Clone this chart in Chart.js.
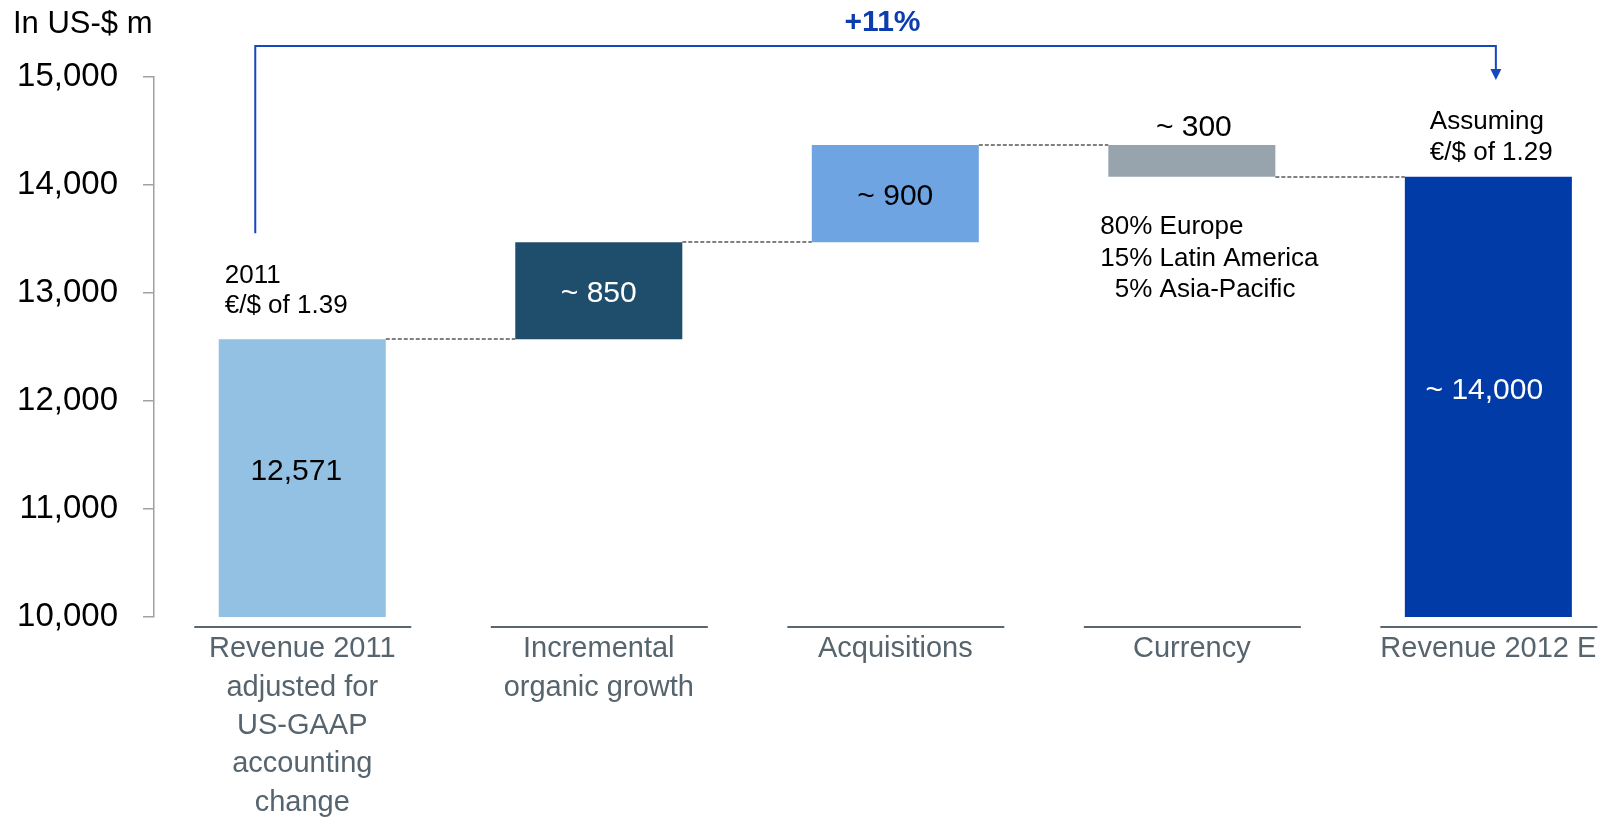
<!DOCTYPE html>
<html>
<head>
<meta charset="utf-8">
<script src="https://cdn.jsdelivr.net/npm/chart.js@4.4.1/dist/chart.umd.min.js"></script>
<style>
html,body{margin:0;padding:0;background:#fff;overflow:hidden}
canvas{display:block}
</style>
</head>
<body>
<canvas id="c" width="1612" height="819"></canvas>
<script>
// ---- data ----
const categories = [
  ["Revenue 2011", "adjusted for", "US-GAAP", "accounting", "change"],
  ["Incremental", "organic growth"],
  ["Acquisitions"],
  ["Currency"],
  ["Revenue 2012 E"]
];
const startValue = 12571;
const changes = [900, 900, -295];
const valueLabels = ["12,571", "~ 850", "~ 900", "~ 300", "~ 14,000"];
const barColors = ["#93C1E3", "#1F4E6D", "#6FA4E3", "#97A4AD", "#003BA7"];
const valueLabelColors = ["#000000", "#FFFFFF", "#000000", "#000000", "#FFFFFF"];
const yMin = 10000;
const yMax = 15000;
const yStep = 1000;
const unitLabel = "In US-$ m";
const growthLabel = "+11%";
const noteStart = ["2011", "€/$ of 1.39"];
const noteEnd = ["Assuming", "€/$ of 1.29"];
const noteCurrency = ["80% Europe", "15% Latin America", "5% Asia-Pacific"];

// ---- build waterfall from data ----
const levels = [startValue];
changes.forEach(c => levels.push(levels[levels.length - 1] + c));
const endValue = levels[levels.length - 1];
const ranges = [[yMin, startValue]];
changes.forEach((c, i) => ranges.push([Math.min(levels[i], levels[i + 1]), Math.max(levels[i], levels[i + 1])]));
ranges.push([yMin, endValue]);
const barData = ranges.map((r, i) => ({ x: i, y: r }));

const FONT = "'Liberation Sans', Arial, Helvetica, sans-serif";
const fmt = v => String(v).replace(/\B(?=(\d{3})+(?!\d))/g, ",");

const overlay = {
  id: "overlay",
  afterDatasetsDraw(chart) {
    const ctx = chart.ctx;
    const meta = chart.getDatasetMeta(0);
    const ys = chart.scales.y;
    const xs = chart.scales.x;
    const area = chart.chartArea;
    const els = meta.data;
    const box = el => ({
      left: el.x - el.width / 2,
      right: el.x + el.width / 2,
      top: Math.min(el.y, el.base),
      bottom: Math.max(el.y, el.base)
    });
    ctx.save();

    // connectors
    ctx.strokeStyle = "#808080";
    ctx.lineWidth = 2;
    ctx.setLineDash([4, 2]);
    for (let i = 0; i < els.length - 1; i++) {
      const a = box(els[i]), b = box(els[i + 1]);
      const y = Math.round(ys.getPixelForValue(levels[i]));
      ctx.beginPath();
      ctx.moveTo(a.right, y);
      ctx.lineTo(b.left, y);
      ctx.stroke();
    }
    ctx.setLineDash([]);

    // value labels
    ctx.font = "30px " + FONT;
    ctx.textAlign = "center";
    ctx.textBaseline = "middle";
    els.forEach((el, i) => {
      const b = box(el);
      ctx.fillStyle = valueLabelColors[i];
      if (i === 3) {
        ctx.textBaseline = "alphabetic";
        ctx.fillText(valueLabels[i], el.x + 2, b.top - 9);
        ctx.textBaseline = "middle";
        return;
      }
      const fromBase = ranges[i][0] === yMin;
      const y = (b.top + b.bottom) / 2 - (fromBase ? 9 : 0) + 3;
      ctx.fillText(valueLabels[i], el.x - (i === 0 ? 6 : (i === 4 ? 4 : 0)), y);
    });

    // notes
    ctx.fillStyle = "#000";
    ctx.font = "26px " + FONT;
    ctx.textAlign = "left";
    ctx.textBaseline = "alphabetic";
    const b0 = box(els[0]);
    ctx.fillText(noteStart[0], b0.left + 6, b0.top - 56);
    ctx.fillText(noteStart[1], b0.left + 6, b0.top - 26);
    const b4 = box(els[4]);
    ctx.fillText(noteEnd[0], b4.left + 25, b4.top - 48);
    ctx.fillText(noteEnd[1], b4.left + 25, b4.top - 17);
    const b3 = box(els[3]);
    const indent = ctx.measureText("1").width;
    ctx.fillText(noteCurrency[0], b3.left - 8, b3.bottom + 57);
    ctx.fillText(noteCurrency[1], b3.left - 8, b3.bottom + 89);
    ctx.fillText(noteCurrency[2], b3.left - 8 + indent, b3.bottom + 120);

    // unit label
    ctx.font = "31px " + FONT;
    ctx.fillText(unitLabel, 13, 33);

    // growth bracket
    const bl = els[0].x - 47;
    const br = els[4].x + 7.5;
    const bt = area.top - 31;
    ctx.strokeStyle = "#1547BE";
    ctx.fillStyle = "#1547BE";
    ctx.lineWidth = 2;
    ctx.beginPath();
    ctx.moveTo(bl, b0.top - 106);
    ctx.lineTo(bl, bt);
    ctx.lineTo(br, bt);
    ctx.lineTo(br, area.top - 7);
    ctx.stroke();
    ctx.beginPath();
    ctx.moveTo(br - 5.5, area.top - 8);
    ctx.lineTo(br + 5.5, area.top - 8);
    ctx.lineTo(br, area.top + 3);
    ctx.closePath();
    ctx.fill();

    ctx.fillStyle = "#0B3DAF";
    ctx.font = "bold 30px " + FONT;
    ctx.textAlign = "center";
    ctx.fillText(growthLabel, (bl + br) / 2 + 7, bt - 15);

    // category underlines
    ctx.strokeStyle = "#5B6770";
    ctx.lineWidth = 2;
    xs.ticks.forEach(t => {
      const x = xs.getPixelForValue(t.value);
      ctx.beginPath();
      ctx.moveTo(x - 108, area.bottom + 10);
      ctx.lineTo(x + 109, area.bottom + 10);
      ctx.stroke();
    });

    ctx.restore();
  }
};

new Chart(document.getElementById("c"), {
  type: "bar",
  data: {
    datasets: [{
      data: barData,
      backgroundColor: barColors,
      borderWidth: 0,
      barPercentage: 0.5633,
      categoryPercentage: 1
    }]
  },
  options: {
    responsive: false,
    animation: false,
    devicePixelRatio: 1,
    layout: { autoPadding: false, padding: { top: 77, right: 8, left: 0, bottom: 0 } },
    plugins: { legend: { display: false }, tooltip: { enabled: false } },
    scales: {
      x: {
        type: "linear",
        offset: false,
        min: -0.5,
        max: 4.39,
        grid: { display: false, drawTicks: false },
        border: { display: false },
        afterBuildTicks: s => { s.ticks = categories.map((_, i) => ({ value: i })); },
        afterFit: s => { s.height = 202; s.paddingLeft = 0; s.paddingRight = 0; },
        ticks: {
          autoSkip: false,
          maxRotation: 0,
          padding: 13,
          color: "#56646E",
          font: { family: FONT, size: 29, lineHeight: "38.4px" },
          callback: v => categories[v]
        }
      },
      y: {
        min: yMin,
        max: yMax,
        afterFit: s => { s.width = 154; },
        ticks: {
          stepSize: yStep,
          padding: 25,
          color: "#000",
          font: { family: FONT, size: 33 },
          callback: v => fmt(v)
        },
        grid: { drawOnChartArea: false, drawTicks: true, tickLength: 11, color: "#A0A0A0", lineWidth: 1.5 },
        border: { color: "#A0A0A0", width: 1.5 }
      }
    }
  },
  plugins: [overlay]
});
</script>
</body>
</html>
